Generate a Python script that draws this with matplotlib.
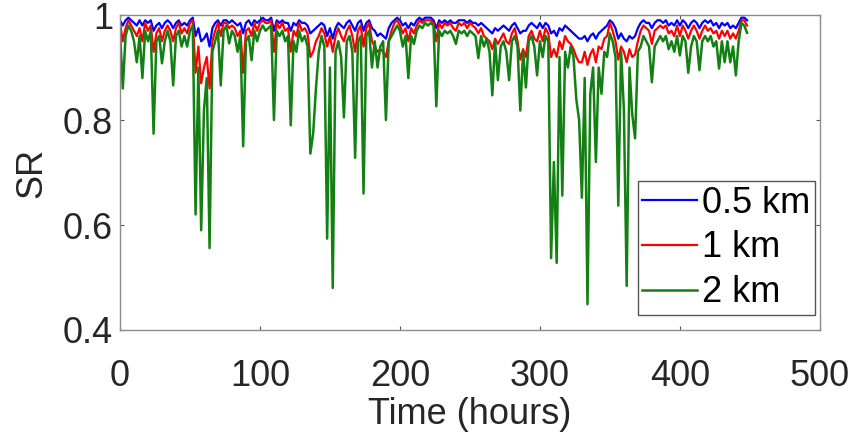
import numpy as np
import matplotlib
matplotlib.use("Agg")
import matplotlib.pyplot as plt
from matplotlib.ticker import FormatStrFormatter

plt.rcParams['font.family'] = ['Liberation Sans', 'DejaVu Sans']

# Time axis: one sample every 2 hours
hours = np.arange(0, 449, 2)

# SR values (each row = 10 samples, 20 hours)
sr_05km = [
    0.99, 0.98, 0.99, 0.995, 0.99, 0.985, 0.98, 0.99, 0.98, 0.99,
    0.985, 0.99, 0.97, 0.98, 0.985, 0.975, 0.985, 0.99, 0.985, 0.975,
    0.985, 0.99, 0.98, 0.985, 0.98, 0.99, 0.995, 0.96, 0.975, 0.95,
    0.955, 0.965, 0.94, 0.975, 0.985, 0.99, 0.98, 0.99, 0.99, 0.985,
    0.99, 0.985, 0.98, 0.985, 0.965, 0.985, 0.99, 0.98, 0.99, 0.985,
    0.99, 0.995, 0.99, 0.99, 0.995, 0.97, 0.99, 0.985, 0.99, 0.985,
    0.985, 0.97, 0.985, 0.98, 0.99, 0.985, 0.985, 0.98, 0.965, 0.97,
    0.975, 0.98, 0.985, 0.98, 0.96, 0.975, 0.955, 0.975, 0.985, 0.98,
    0.975, 0.985, 0.99, 0.98, 0.97, 0.985, 0.99, 0.97, 0.985, 0.99,
    0.975, 0.97, 0.96, 0.965, 0.96, 0.955, 0.975, 0.985, 0.99, 0.995,
    0.99, 0.98, 0.985, 0.975, 0.985, 0.98, 0.99, 0.995, 0.99, 0.995,
    0.995, 0.995, 0.99, 0.975, 0.99, 0.985, 0.99, 0.985, 0.99, 0.985,
    0.985, 0.99, 0.99, 0.99, 0.985, 0.99, 0.985, 0.985, 0.98, 0.985,
    0.98, 0.975, 0.97, 0.965, 0.975, 0.97, 0.975, 0.98, 0.975, 0.97,
    0.98, 0.985, 0.975, 0.965, 0.97, 0.97, 0.98, 0.985, 0.98, 0.975,
    0.985, 0.975, 0.985, 0.98, 0.965, 0.97, 0.96, 0.975, 0.97, 0.98,
    0.975, 0.97, 0.965, 0.96, 0.955, 0.955, 0.96, 0.95, 0.96, 0.965,
    0.955, 0.965, 0.97, 0.975, 0.98, 0.99, 0.985, 0.975, 0.955, 0.965,
    0.955, 0.95, 0.96, 0.955, 0.96, 0.975, 0.985, 0.99, 0.985, 0.985,
    0.975, 0.985, 0.99, 0.99, 0.985, 0.99, 0.98, 0.985, 0.98, 0.99,
    0.98, 0.99, 0.985, 0.975, 0.985, 0.99, 0.985, 0.975, 0.985, 0.99,
    0.985, 0.99, 0.98, 0.985, 0.975, 0.985, 0.98, 0.985, 0.975, 0.98,
    0.975, 0.985, 0.995, 0.995, 0.99,
]
sr_1km = [
    0.985, 0.95, 0.975, 0.99, 0.98, 0.97, 0.96, 0.975, 0.95, 0.985,
    0.97, 0.98, 0.93, 0.965, 0.975, 0.95, 0.97, 0.98, 0.97, 0.95,
    0.975, 0.985, 0.965, 0.975, 0.965, 0.985, 0.99, 0.89, 0.94, 0.87,
    0.90, 0.92, 0.86, 0.95, 0.97, 0.985, 0.96, 0.985, 0.985, 0.975,
    0.98, 0.975, 0.96, 0.97, 0.89, 0.97, 0.975, 0.96, 0.985, 0.97,
    0.985, 0.99, 0.985, 0.985, 0.99, 0.93, 0.985, 0.975, 0.985, 0.97,
    0.975, 0.93, 0.97, 0.96, 0.985, 0.97, 0.975, 0.965, 0.92, 0.93,
    0.95, 0.96, 0.975, 0.965, 0.94, 0.96, 0.93, 0.96, 0.975, 0.96,
    0.95, 0.97, 0.98, 0.96, 0.93, 0.97, 0.98, 0.94, 0.975, 0.985,
    0.95, 0.94, 0.93, 0.935, 0.93, 0.92, 0.95, 0.97, 0.985, 0.99,
    0.98, 0.965, 0.975, 0.95, 0.975, 0.965, 0.98, 0.99, 0.985, 0.99,
    0.99, 0.99, 0.985, 0.95, 0.985, 0.975, 0.985, 0.98, 0.985, 0.975,
    0.97, 0.985, 0.98, 0.985, 0.975, 0.985, 0.98, 0.975, 0.965, 0.975,
    0.96, 0.955, 0.95, 0.935, 0.955, 0.945, 0.955, 0.965, 0.95, 0.945,
    0.965, 0.975, 0.95, 0.915, 0.935, 0.92, 0.96, 0.97, 0.955, 0.95,
    0.97, 0.95, 0.975, 0.965, 0.92, 0.935, 0.92, 0.95, 0.935, 0.96,
    0.95, 0.945, 0.935, 0.92, 0.91, 0.91, 0.93, 0.905, 0.925, 0.935,
    0.91, 0.94, 0.935, 0.955, 0.96, 0.985, 0.97, 0.95, 0.915, 0.94,
    0.93, 0.91, 0.935, 0.92, 0.925, 0.95, 0.97, 0.98, 0.975, 0.97,
    0.945, 0.97, 0.975, 0.98, 0.975, 0.98, 0.965, 0.97, 0.96, 0.98,
    0.96, 0.98, 0.97, 0.955, 0.97, 0.98, 0.97, 0.955, 0.97, 0.98,
    0.97, 0.975, 0.965, 0.97, 0.955, 0.97, 0.96, 0.97, 0.955, 0.965,
    0.955, 0.97, 0.99, 0.99, 0.98,
]
sr_2km = [
    0.97, 0.86, 0.96, 0.98, 0.97, 0.95, 0.91, 0.96, 0.88, 0.97,
    0.95, 0.97, 0.774, 0.95, 0.96, 0.908, 0.95, 0.97, 0.95, 0.866,
    0.96, 0.97, 0.94, 0.96, 0.94, 0.97, 0.98, 0.62, 0.90, 0.59,
    0.82, 0.88, 0.556, 0.93, 0.95, 0.97, 0.866, 0.97, 0.98, 0.946,
    0.97, 0.96, 0.93, 0.96, 0.75, 0.95, 0.96, 0.914, 0.97, 0.95,
    0.97, 0.98, 0.97, 0.975, 0.98, 0.80, 0.97, 0.96, 0.97, 0.95,
    0.96, 0.79, 0.95, 0.93, 0.97, 0.95, 0.96, 0.94, 0.736, 0.774,
    0.86, 0.93, 0.96, 0.94, 0.574, 0.90, 0.48, 0.93, 0.95, 0.92,
    0.805, 0.95, 0.96, 0.93, 0.728, 0.95, 0.96, 0.66, 0.96, 0.97,
    0.90, 0.95, 0.90, 0.94, 0.95, 0.80, 0.95, 0.96, 0.97, 0.98,
    0.97, 0.94, 0.96, 0.88, 0.96, 0.945, 0.97, 0.98, 0.975, 0.985,
    0.98, 0.985, 0.98, 0.826, 0.97, 0.96, 0.97, 0.965, 0.97, 0.96,
    0.945, 0.97, 0.965, 0.97, 0.96, 0.97, 0.965, 0.96, 0.918, 0.96,
    0.94, 0.955, 0.93, 0.847, 0.95, 0.876, 0.94, 0.95, 0.93, 0.876,
    0.95, 0.96, 0.94, 0.818, 0.93, 0.862, 0.95, 0.96, 0.94, 0.885,
    0.95, 0.92, 0.96, 0.95, 0.537, 0.72, 0.528, 0.92, 0.656, 0.93,
    0.90, 0.94, 0.92, 0.84, 0.80, 0.652, 0.88, 0.449, 0.85, 0.90,
    0.72, 0.90, 0.85, 0.93, 0.92, 0.965, 0.95, 0.92, 0.637, 0.93,
    0.82, 0.484, 0.90, 0.81, 0.765, 0.93, 0.94, 0.96, 0.95, 0.94,
    0.872, 0.94, 0.95, 0.96, 0.95, 0.96, 0.935, 0.95, 0.93, 0.96,
    0.923, 0.96, 0.95, 0.89, 0.94, 0.96, 0.95, 0.895, 0.95, 0.96,
    0.95, 0.96, 0.94, 0.95, 0.898, 0.95, 0.91, 0.95, 0.91, 0.94,
    0.885, 0.95, 0.985, 0.98, 0.966,
]
labels = ['0.5 km', '1 km', '2 km']

fig = plt.figure(figsize=(8.54, 4.42), dpi=100)
ax = fig.add_axes([0.1405, 0.2534, 0.8195, 0.7126])

ax.plot(hours, sr_05km, color='#0000ff', lw=1.6, label=labels[0])
ax.plot(hours, sr_1km, color='#ff0000', lw=1.6, label=labels[1])
ax.plot(hours, sr_2km, color='#138013', lw=1.8, label=labels[2])

ax.set_xlim(0, 500)
ax.set_ylim(0.4, 1)
ax.set_xticks([0, 100, 200, 300, 400, 500])
ax.set_yticks([0.4, 0.6, 0.8, 1.0])
ax.yaxis.set_major_formatter(FormatStrFormatter('%g'))
ax.tick_params(direction='in', length=3, width=0.8, color='#555555',
               top=True, right=True, labelsize=26, labelcolor='#262626')
ax.tick_params(axis='x', pad=21)
ax.tick_params(axis='y', pad=5)
for s in ax.spines.values():
    s.set_color('#8c8c8c')
    s.set_linewidth(1.0)

ax.set_xlabel('Time (hours)', fontsize=26, color='#262626', labelpad=2)
ax.set_ylabel('SR', fontsize=26, color='#262626', labelpad=10)

leg = ax.legend(loc='lower right', bbox_to_anchor=(0.993, 0.048), fontsize=26,
                fancybox=False, framealpha=1, edgecolor='#555555',
                handlelength=1.5, handletextpad=0.15, labelspacing=0.27,
                borderpad=0.13, borderaxespad=0)
leg.get_frame().set_linewidth(1.0)

fig.savefig('out.png', dpi=100)
